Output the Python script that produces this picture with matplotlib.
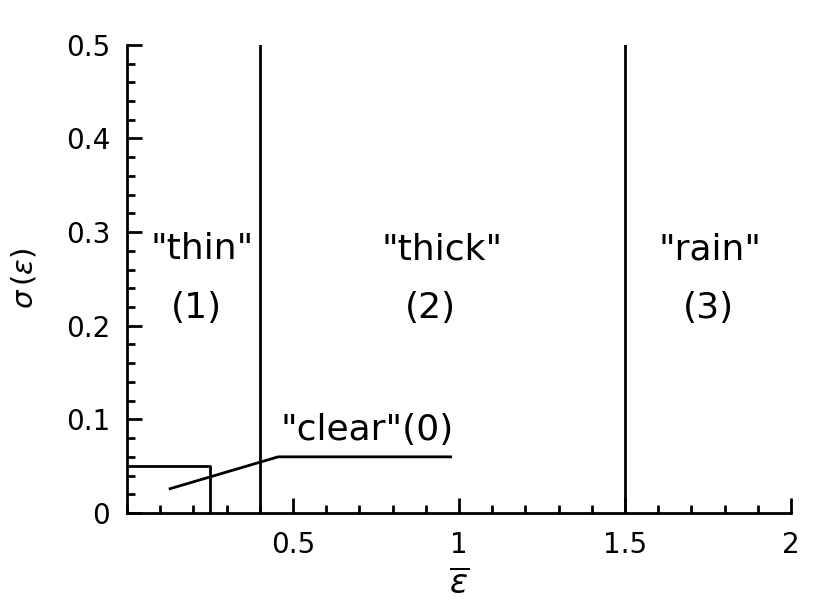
import matplotlib
matplotlib.use('Agg')
import matplotlib.pyplot as plt
from matplotlib.ticker import MultipleLocator, FixedLocator

plt.rcParams['font.family'] = ['DejaVu Sans']
plt.rcParams['mathtext.fontset'] = 'dejavusans'

# regime boundaries (mean epsilon)
boundaries = [0.4, 1.5]
# "clear" box
clear_x = [0, 0.25, 0.25]
clear_y = [0.05, 0.05, 0]
# pointer line for the "clear" label
pointer_x = [0.13, 0.455, 0.975]
pointer_y = [0.026, 0.06, 0.06]

labels = ['"thin"', '"thick"', '"rain"']
numbers = ['(1)', '(2)', '(3)']
label_x = [0.226, 0.95, 1.756]
number_x = [0.21, 0.915, 1.75]

xticks = [0.5, 1, 1.5, 2]
xticklabels = ['0.5', '1', '1.5', '2']
yticks = [0, 0.1, 0.2, 0.3, 0.4, 0.5]
yticklabels = ['0', '0.1', '0.2', '0.3', '0.4', '0.5']

fig = plt.figure(figsize=(8.3, 6.05), dpi=100)
ax = fig.add_axes([0.153, 0.152, 0.8, 0.774])

lw = 2.0
for b in boundaries:
    ax.plot([b, b], [0, 0.5], color='k', lw=lw)
ax.plot(clear_x, clear_y, color='k', lw=lw)
ax.plot(pointer_x, pointer_y, color='k', lw=lw)

fs = 26
for x, s in zip(label_x, labels):
    ax.text(x, 0.271, s, ha='center', va='baseline', fontsize=fs)
for x, s in zip(number_x, numbers):
    ax.text(x, 0.208, s, ha='center', va='baseline', fontsize=fs)
ax.text(0.463, 0.078, '"clear"(0)', ha='left', va='baseline', fontsize=fs)

ax.set_xlim(0, 2)
ax.set_ylim(0, 0.5)
ax.xaxis.set_major_locator(FixedLocator(xticks))
ax.set_xticklabels(xticklabels)
ax.xaxis.set_minor_locator(MultipleLocator(0.1))
ax.set_yticks(yticks)
ax.set_yticklabels(yticklabels)
ax.yaxis.set_minor_locator(MultipleLocator(0.02))

ax.tick_params(which='both', direction='in', width=lw, labelsize=20)
ax.tick_params(which='major', length=11)
ax.tick_params(axis='x', which='major', pad=13)
ax.tick_params(axis='y', which='major', pad=12)
ax.tick_params(which='minor', length=6)

for side in ['top', 'right']:
    ax.spines[side].set_visible(False)
for side in ['left', 'bottom']:
    ax.spines[side].set_linewidth(lw)

ax.set_xlabel(r'$\overline{\epsilon}$', fontsize=24, labelpad=6)
ax.set_ylabel(r'$\sigma\,(\epsilon)$', fontsize=21, labelpad=20)

fig.savefig('out.png', dpi=100)
